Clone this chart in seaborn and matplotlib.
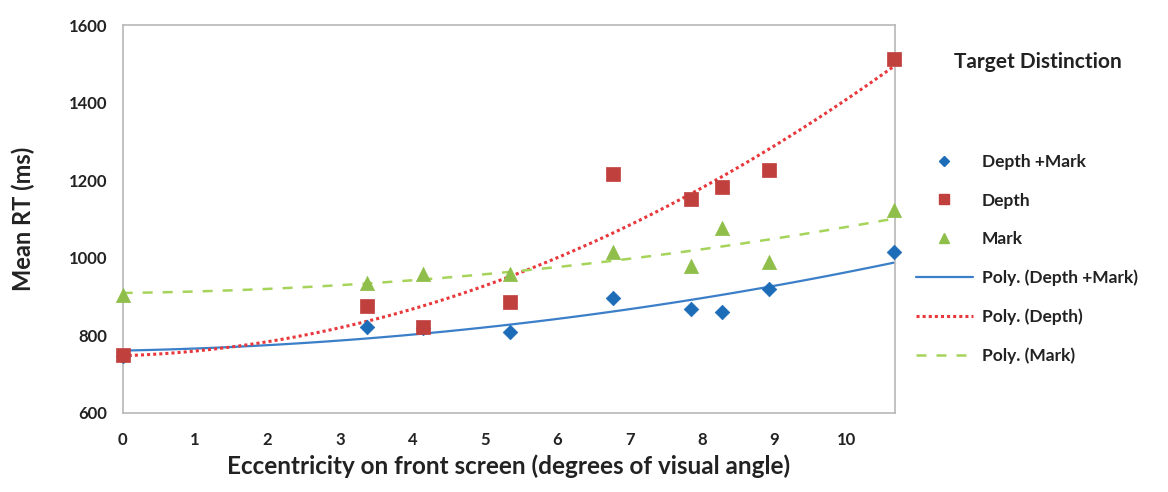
import matplotlib
matplotlib.use("Agg")
import matplotlib.pyplot as plt
import seaborn as sns
import pandas as pd
import numpy as np
from matplotlib.lines import Line2D

sns.set_style("white")
plt.rcParams['font.family'] = ['Lato', 'DejaVu Sans']
plt.rcParams['font.weight'] = 'bold'

eccentricity = [0, 3.38, 4.15, 5.35, 6.77, 7.85, 8.27, 8.92, 10.65]
depth_mark = [746, 820, 818, 809, 897, 868, 859, 920, 1016]
depth = [749, 876, 821, 885, 1216, 1152, 1183, 1227, 1513]
mark = [904, 935, 957, 957, 1016, 978, 1077, 989, 1124]

series_names = ["Depth +Mark", "Depth", "Mark"]
series_values = [depth_mark, depth, mark]
marker_colors = ["#1c6cb8", "#c0403e", "#8fbf4a"]
line_colors = ["#3b7fc9", "#e8383c", "#a6d45a"]
markers = ["D", "s", "^"]
msizes = [55, 110, 105]
linestyles = ["-", (0, (1, 1)), (0, (4, 4))]
linewidths = [1.6, 2.2, 1.8]

fig = plt.figure(figsize=(11.68, 4.92), dpi=100)
ax = fig.add_axes([0.105, 0.161, 0.661, 0.788])

for name, vals, mc, lc, mk, ms, ls, lw in zip(series_names, series_values, marker_colors,
                                               line_colors, markers, msizes, linestyles, linewidths):
    df = pd.DataFrame({"x": eccentricity, "y": vals})
    sns.regplot(data=df, x="x", y="y", order=2, ci=None, scatter=False, ax=ax, truncate=True,
                line_kws=dict(color=lc, linestyle=ls, linewidth=lw, zorder=2))
for name, vals, mc, mk, ms in zip(series_names, series_values, marker_colors, markers, msizes):
    df = pd.DataFrame({"x": eccentricity, "y": vals})
    sns.scatterplot(data=df, x="x", y="y", marker=mk, s=ms, color=mc, edgecolor=mc,
                    linewidth=0.5, ax=ax, zorder=3, clip_on=False)

ax.set_xlim(0, 10.66)
ax.set_ylim(600, 1600)
ax.set_xticks(range(0, 11))
ax.set_yticks(range(600, 1601, 200))
for s in ax.spines.values():
    s.set_color("#b8b8b8")
    s.set_linewidth(1.2)
ax.tick_params(axis="both", which="both", direction="out", length=5, width=1,
               color="#b8b8b8", labelsize=12, labelcolor="#222222", pad=6)
ax.tick_params(axis="x", pad=9)
for lab in ax.get_xticklabels() + ax.get_yticklabels():
    lab.set_fontweight("bold")
ax.set_xlabel("Eccentricity on front screen (degrees of visual angle)", fontsize=17.5,
              fontweight="bold", color="#222222")
ax.set_ylabel("Mean RT (ms)", fontsize=17, fontweight="bold", color="#222222")
ax.xaxis.set_label_coords(0.5, -0.108)
ax.yaxis.set_label_coords(-0.113, 0.5)

handles = []
labels = []
for name, mc, mk, ms in zip(series_names, marker_colors, markers, msizes):
    handles.append(Line2D([], [], linestyle="none", marker=mk, color=mc,
                          markersize=np.sqrt(ms) * 0.75))
    labels.append(name)
for name, lc, ls, lw in zip(series_names, line_colors, linestyles, linewidths):
    handles.append(Line2D([], [], color=lc, linestyle=ls, linewidth=lw))
    labels.append("Poly. (" + name + ")")

fig.text(1038 / 1168, 1 - 62 / 492, "Target Distinction", ha="center", va="center",
         fontsize=15, fontweight="bold", color="#222222")
leg = fig.legend(handles, labels, loc="upper left", bbox_to_anchor=(0.778, 1 - 147 / 492),
                 frameon=False, fontsize=12.5, handlelength=3.3, handletextpad=0.5,
                 labelspacing=1.3, borderaxespad=0)
for t in leg.get_texts():
    t.set_fontweight("bold")
    t.set_color("#222222")

fig.savefig("out.png", dpi=100)
